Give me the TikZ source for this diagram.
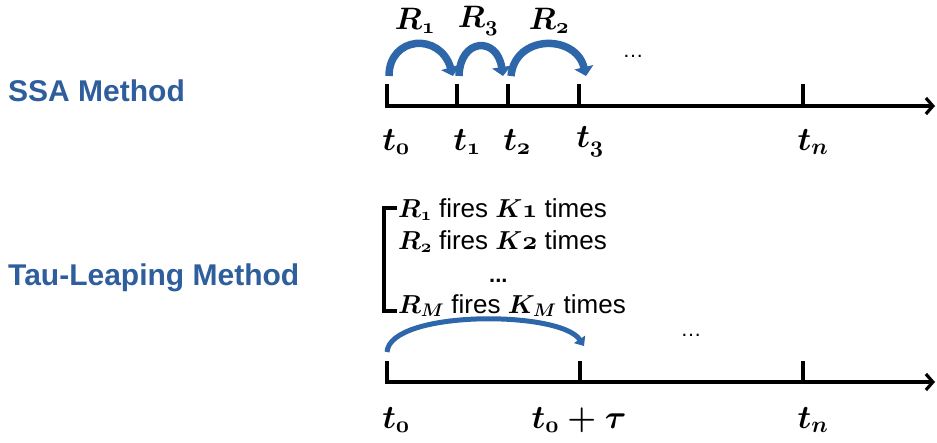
\RequirePackage{fix-cm}
\documentclass[tikz,border=0pt]{standalone}
\usepackage{amsmath,amsbsy}
\usepackage{fontspec}
\setmainfont{Liberation Sans}
\usetikzlibrary{arrows.meta}
\definecolor{mblue}{HTML}{2F5E9C}
\definecolor{arcblue}{HTML}{2E66AA}
\newcommand{\od}[1]{\mathchar"013#1\relax}
\tikzset{
  axisline/.style={line width=3.6pt,-{Straight Barb[length=7pt,width=16pt,line width=3.2pt]}},
  tickline/.style={line width=3.6pt},
  jump/.style={line width=7.5pt,draw=arcblue,-{Triangle[length=9pt,width=19pt]}},
  leap/.style={line width=5pt,draw=arcblue,-{Triangle[length=8pt,width=13pt]}},
  title/.style={font=\fontsize{30}{34}\selectfont\bfseries,text=mblue,anchor=west,inner sep=0pt},
  tlab/.style={font=\fontsize{33}{36}\selectfont\boldmath,inner sep=0pt},
  rlab/.style={font=\fontsize{31}{34}\selectfont\boldmath,inner sep=0pt},
  fire/.style={font=\fontsize{26}{30}\selectfont\boldmath,anchor=base west,inner sep=0pt},
  dots/.style={font=\fontsize{21}{24}\selectfont,inner sep=0pt}
}
\begin{document}
\begin{tikzpicture}[x=1pt,y=-1pt]
\useasboundingbox (0,0) rectangle (937,442);
% titles
\node[title] (ssa) at (8,91) {SSA Method};
\node[title] (tau) at (8,278) {Tau-Leaping Method};
% top axis
\coordinate (a0) at (385,106);
\coordinate (aend) at (935,106);
\coordinate (k0) at (387,106); \coordinate (k0t) at (387,84);
\coordinate (k1) at (457,106); \coordinate (k1t) at (457,84);
\coordinate (k2) at (508,106); \coordinate (k2t) at (508,84);
\coordinate (k3) at (579,106); \coordinate (k3t) at (579,84);
\coordinate (kn) at (803,106); \coordinate (knt) at (803,84);
\draw[axisline] (a0) -- (aend);
\foreach \k in {k0,k1,k2,k3,kn} \draw[tickline] (\k) -- (\k t);
% jumps
\coordinate (j0) at (389,76);
\coordinate (j1) at (453,76);
\coordinate (j1s) at (459,76);
\coordinate (j2) at (503,76);
\coordinate (j2s) at (511,76);
\coordinate (j3) at (586,76);
\draw[jump] (j0) .. controls (389,36) and (440,32) .. (j1);
\draw[jump] (j1s) .. controls (460,38) and (497,36) .. (j2);
\draw[jump] (j2s) .. controls (515,34) and (576,34) .. (j3);
\node[rlab] (r1) at (415,21) {$R_{\od1}$};
\node[rlab] (r3) at (478,21) {$R_{\od3}$};
\node[rlab] (r2) at (549,21) {$R_{\od2}$};
\node[dots] (dtop) at (633,56) {\ldots};
% top labels
\node[tlab] (t0) at (396,142) {$t_{\od0}$};
\node[tlab] (t1) at (467,142) {$t_{\od1}$};
\node[tlab] (t2) at (517,142) {$t_{\od2}$};
\node[tlab] (t3) at (590,142) {$t_{\od3}$};
\node[tlab] (tn) at (813,142) {$t_n$};
% bracket
\coordinate (b1) at (397,208);
\coordinate (b2) at (384,208);
\coordinate (b3) at (384,311);
\coordinate (b4) at (397,311);
\draw[line width=3.4pt] (b1) -- (b2) -- (b3) -- (b4);
\node[fire] (f1) at (398,217) {$R_{\od1}$ fires $K\od1$ times};
\node[fire] (f2) at (398,249) {$R_{\od2}$ fires $K\od2$ times};
\node[fire,font=\fontsize{22}{26}\selectfont\bfseries] (f3) at (489,282) {...};
\node[fire] (f4) at (398,313) {$R_M$ fires $K_M$ times};
% bottom axis
\coordinate (c0) at (385,382);
\coordinate (cend) at (935,382);
\coordinate (m0) at (387,382); \coordinate (m0t) at (387,361);
\coordinate (m1) at (580,382); \coordinate (m1t) at (580,361);
\coordinate (mn) at (803,382); \coordinate (mnt) at (803,361);
\draw[axisline] (c0) -- (cend);
\foreach \k in {m0,m1,mn} \draw[tickline] (\k) -- (\k t);
\coordinate (l0) at (387,352);
\coordinate (l1) at (584,346);
\draw[leap] (l0) .. controls (390,310) and (560,310) .. (l1);
\node[dots] (dbot) at (691,335) {\ldots};
\node[tlab] (u0) at (396,420) {$t_{\od0}$};
\node[tlab] (u1) at (579,420) {$t_{\od0}+\tau$};
\node[tlab] (un) at (813,420) {$t_n$};
\end{tikzpicture}
\end{document}
